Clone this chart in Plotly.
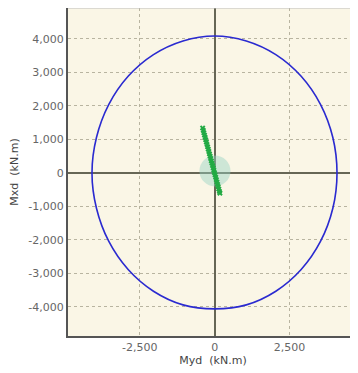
import plotly.graph_objects as go

# Interaction envelope (Myd, Mxd) in kN.m
env_my = [4080, 3941, 3533, 2885, 2040, 1056, 0, -1056, -2040, -2885, -3533, -3941,
          -4090, -3941, -3533, -2885, -2040, -1056, 0, 1056, 2040, 2885, 3533, 3941, 4080]
env_mx = [0, 1056, 2040, 2885, 3533, 3941, 4090, 3941, 3533, 2885, 2040, 1056,
          0, -1056, -2040, -2885, -3533, -3941, -4060, -3941, -3533, -2885, -2040, -1056, 0]

# Load points (Myd, Mxd)
load_my = [-400, -379, -359, -338, -317, -297, -276, -255, -234, -214, -193, -172, -152,
           -131, -110, -90, -69, -48, -27, -7, 14, 35, 55, 76, 97, 117, 138, 159, 175]
load_mx = [1340, 1270, 1200, 1130, 1060, 990, 920, 850, 780, 710, 640, 570, 500,
           430, 360, 290, 220, 150, 80, 10, -60, -130, -200, -270, -340, -410, -480, -550, -605]

# Highlight centre
hl_my = [10]
hl_mx = [60]

x_ticks = [-2500, 0, 2500]
x_tick_text = ["-2,500", "0", "2,500"]
y_ticks = [-4000, -3000, -2000, -1000, 0, 1000, 2000, 3000, 4000]
y_tick_text = ["-4,000", "-3,000", "-2,000", "-1,000", "0", "1,000", "2,000", "3,000", "4,000"]

fig = go.Figure()
fig.add_trace(go.Scatter(x=hl_my, y=hl_mx, mode="markers",
                         marker=dict(size=31, color="rgba(150,210,195,0.45)", line=dict(width=0)),
                         hoverinfo="skip"))
fig.add_trace(go.Scatter(x=env_my, y=env_mx, mode="lines",
                         line=dict(color="#2a2ad0", width=1.6, shape="spline", smoothing=1.0)))
fig.add_trace(go.Scatter(x=load_my, y=load_mx, mode="markers+lines",
                         line=dict(color="#22aa44", width=2.5),
                         marker=dict(symbol="x", size=5, color="#22aa44", line=dict(width=0))))

font_tick = dict(family="DejaVu Sans", size=11, color="#666666")
font_title = dict(family="DejaVu Sans", size=11, color="#444444")

fig.update_layout(
    width=350, height=365,
    margin=dict(l=60, r=0, t=0, b=37),
    paper_bgcolor="white", plot_bgcolor="#faf6e6",
    showlegend=False,
    xaxis=dict(range=[-4890, 4780], tickvals=x_ticks, ticktext=x_tick_text,
               tickfont=font_tick, showgrid=True, gridcolor="#b8b4a0", griddash="dot", gridwidth=1,
               zeroline=True, zerolinecolor="#666655", zerolinewidth=1.5,
               showline=True, linecolor="#555555", linewidth=2, ticks="",
               title=dict(text="Myd  (kN.m)", font=font_title, standoff=2), automargin=False),
    yaxis=dict(range=[-4870, 4925], tickvals=y_ticks, ticktext=y_tick_text,
               tickfont=font_tick, showgrid=True, gridcolor="#b8b4a0", griddash="dot", gridwidth=1,
               zeroline=True, zerolinecolor="#666655", zerolinewidth=1.5,
               showline=True, linecolor="#555555", linewidth=2, ticks="",
               title=dict(text="Mxd  (kN.m)", font=font_title, standoff=8), automargin=False),
    shapes=[dict(type="line", xref="paper", yref="paper", x0=0, x1=1, y0=1, y1=1,
                 line=dict(color="#bbbbbb", width=1))],
)

fig.write_html("out.html")
